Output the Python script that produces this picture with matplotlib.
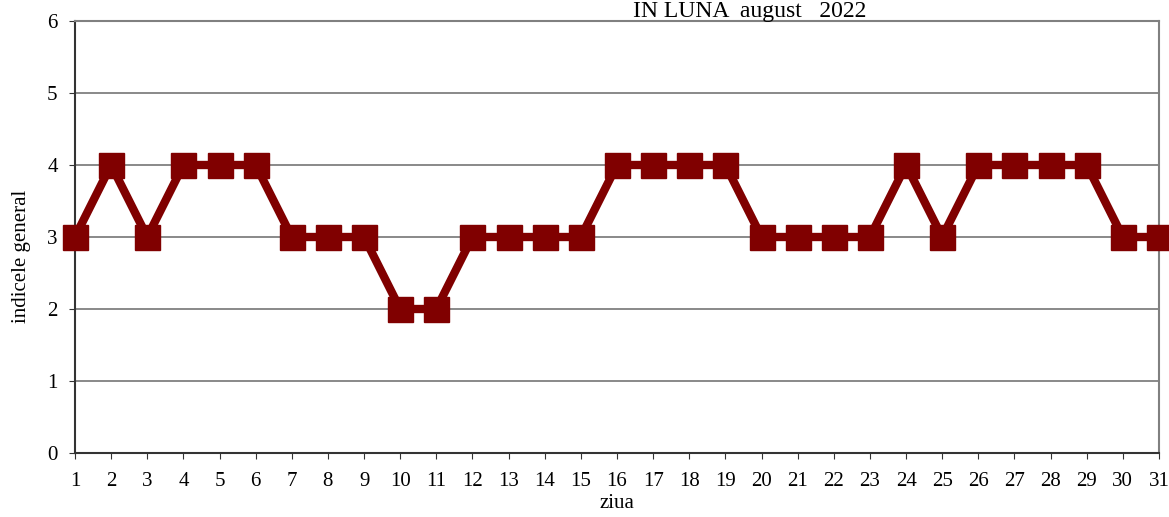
import matplotlib
matplotlib.use("Agg")
import matplotlib.pyplot as plt

# daily index values for August 2022
days = list(range(1, 32))
index = [3, 4, 3, 4, 4, 4, 3, 3, 3, 2, 2, 3, 3, 3, 3, 4, 4, 4, 4,
         3, 3, 3, 3, 4, 3, 4, 4, 4, 4, 3, 3]
yticks = [0, 1, 2, 3, 4, 5, 6]

plt.rcParams['font.family'] = ['Liberation Serif', 'DejaVu Serif']

fig = plt.figure(figsize=(11.69, 5.17), dpi=100)
ax = fig.add_axes([75 / 1169, 1 - 453 / 517, (1159 - 75) / 1169, (453 - 21) / 517])

ax.plot(days, index, '-s', color='#800000', lw=6, ms=18, clip_on=False, zorder=3)

ax.set_xlim(1, 31)
ax.set_ylim(0, 6)
ax.set_xticks(days)
ax.set_yticks(yticks)
ax.tick_params(labelsize=15, direction='out', length=4.5, color='#333333')
ax.tick_params(axis='x', pad=9)
ax.tick_params(axis='y', pad=8)
ax.grid(axis='y', color='#808080', lw=1.3)
ax.set_axisbelow(True)

for s in ['top', 'right']:
    ax.spines[s].set_color('#808080')
    ax.spines[s].set_linewidth(1.5)
for s in ['left', 'bottom']:
    ax.spines[s].set_color('#333333')
    ax.spines[s].set_linewidth(1.5)

ax.set_ylabel('indicele general', fontsize=15)
ax.yaxis.set_label_coords(-(75 - 31) / (1159 - 75), 0.455)
fig.text(617 / 1169, 1 - 494 / 517, 'ziua', fontsize=15,
         ha='center', va='top')
fig.text(750 / 1169, 1 - 17 / 517, 'IN LUNA  august   2022', fontsize=17,
         ha='center', va='baseline')

fig.savefig('out.png', dpi=100)
